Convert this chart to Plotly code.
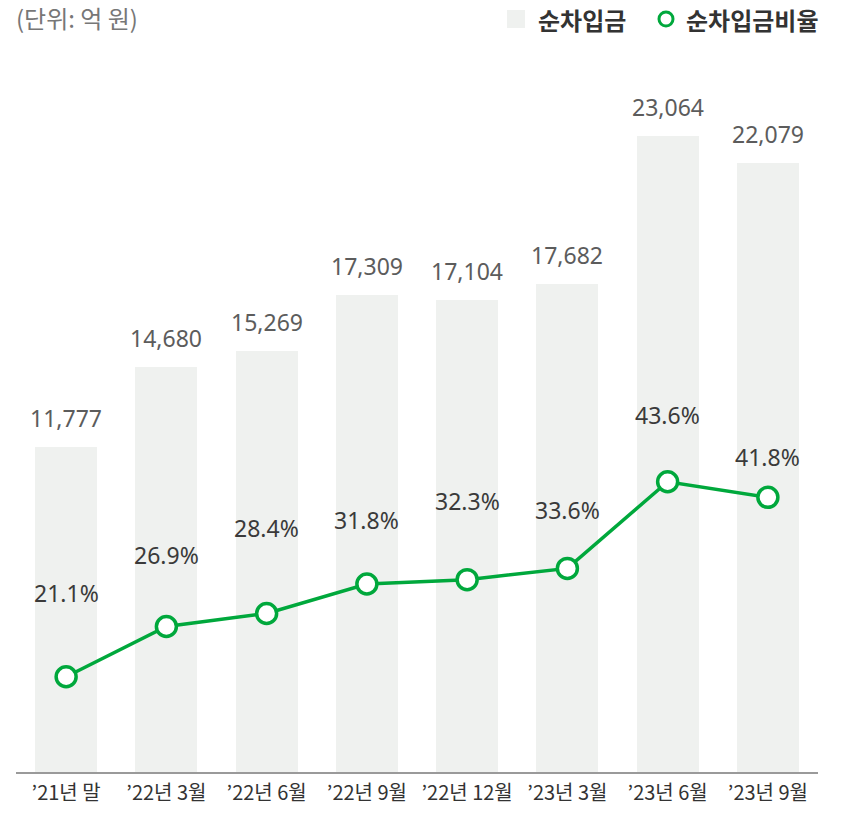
import plotly.graph_objects as go

categories = ["’21년 말", "’22년 3월", "’22년 6월", "’22년 9월", "’22년 12월", "’23년 3월", "’23년 6월", "’23년 9월"]
net_debt = [11777, 14680, 15269, 17309, 17104, 17682, 23064, 22079]
net_debt_ratio = [21.1, 26.9, 28.4, 31.8, 32.3, 33.6, 43.6, 41.8]
unit_text = "(단위: 억 원)"
legend_bar = "순차입금"
legend_line = "순차입금비율"

# style
BAR_COLOR = "#eff1ef"
GREEN = "#00a83c"
NUM_FONT = "Noto Sans, Noto Sans CJK KR, sans-serif"
KR_FONT = "Noto Sans CJK KR, Noto Sans, sans-serif"
pct_label_shift = [84, 71, 85, 64, 79, 58, 67, 40]

W, H = 843, 819
L, R, T, B = 16, 25, 50, 47
PW, PH = W - L - R, H - T - B

def px_x(px):
    return (px - L) / PW

def px_y(py):
    return (H - B - py) / PH

xs = list(range(len(categories)))

fig = go.Figure()
fig.add_trace(go.Bar(
    x=xs, y=net_debt, width=0.62, marker=dict(color=BAR_COLOR, line=dict(width=0)),
    name=legend_bar, hoverinfo="skip", showlegend=False,
))
fig.add_trace(go.Scatter(
    x=xs, y=net_debt_ratio, yaxis="y2", mode="lines+markers",
    line=dict(color=GREEN, width=3.5),
    marker=dict(size=20, color="white", line=dict(color=GREEN, width=3.5)),
    name=legend_line, hoverinfo="skip", showlegend=False,
))

annotations = []
for i, v in enumerate(net_debt):
    annotations.append(dict(
        x=i, y=v, xref="x", yref="y", text=f"{v:,}", showarrow=False,
        yanchor="middle", yshift=29,
        font=dict(family=NUM_FONT, size=23, color="#5c5c5c"),
    ))
for i, v in enumerate(net_debt_ratio):
    annotations.append(dict(
        x=i, y=v, xref="x", yref="y2", text=f"{v:.1f}%", showarrow=False,
        yanchor="middle", yshift=pct_label_shift[i],
        font=dict(family=NUM_FONT, size=23, color="#3a3a3a"),
    ))

annotations.append(dict(
    x=px_x(14), y=px_y(18), xref="paper", yref="paper", text=unit_text,
    showarrow=False, xanchor="left", yanchor="middle",
    font=dict(family=KR_FONT, size=24, color="#777777"),
))
annotations.append(dict(
    x=px_x(536), y=px_y(19), xref="paper", yref="paper", text=legend_bar,
    showarrow=False, xanchor="left", yanchor="middle",
    font=dict(family=KR_FONT, size=24, color="#333333", weight=700),
))
annotations.append(dict(
    x=px_x(684), y=px_y(19), xref="paper", yref="paper", text=legend_line,
    showarrow=False, xanchor="left", yanchor="middle",
    font=dict(family=KR_FONT, size=24, color="#333333", weight=700),
))

shapes = [
    dict(type="rect", xref="paper", yref="paper",
         x0=px_x(507), x1=px_x(525), y0=px_y(28), y1=px_y(10),
         fillcolor=BAR_COLOR, line=dict(width=0)),
    dict(type="circle", xref="paper", yref="paper",
         x0=px_x(659), x1=px_x(673), y0=px_y(26), y1=px_y(12),
         fillcolor="white", line=dict(color=GREEN, width=3)),
]

fig.update_layout(
    width=W, height=H,
    margin=dict(l=L, r=R, t=T, b=B, pad=0),
    paper_bgcolor="white", plot_bgcolor="white",
    showlegend=False,
    xaxis=dict(
        range=[-0.5, 7.5], tickmode="array", tickvals=xs, ticktext=categories,
        showgrid=False, zeroline=False, showline=True, linecolor="#9a9a9a", linewidth=1.5,
        ticks="", ticklabelstandoff=2,
        tickfont=dict(family=KR_FONT, size=20, color="#333333"),
        fixedrange=True,
    ),
    yaxis=dict(range=[0, 26182], showgrid=False, zeroline=False, showticklabels=False,
               showline=False, fixedrange=True),
    yaxis2=dict(range=[10.11, 93.41], overlaying="y", side="right", showgrid=False,
                zeroline=False, showticklabels=False, showline=False, fixedrange=True),
    annotations=annotations,
    shapes=shapes,
    bargap=0,
)

fig.write_html("out.html", config={"displayModeBar": False},
               post_script="document.body.style.margin='0';")
